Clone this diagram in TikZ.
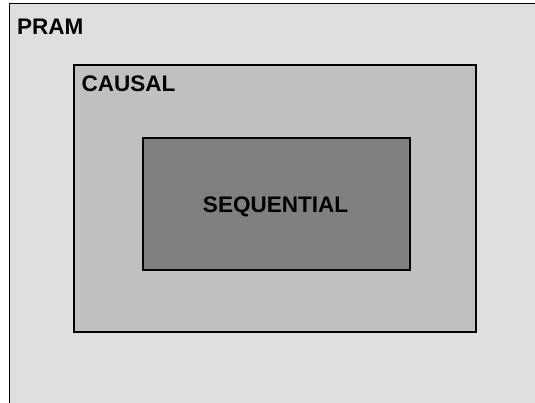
\documentclass[tikz,border=0pt]{standalone}
\usepackage{fontspec}
\setmainfont{Liberation Sans}
\begin{document}
\begin{tikzpicture}[x=1pt,y=1pt,
  region/.style={draw=black, line width=1.5pt, inner sep=0pt, outer sep=0pt},
  tag/.style={font=\bfseries\fontsize{22.5}{25}\selectfont, inner sep=0pt, text=black}]
  \useasboundingbox (0,0) rectangle (535,403);
  \clip (0,0) rectangle (535,403);
  \fill[white] (0,0) rectangle (535,403);
  % nested model regions
  \node[region, fill={rgb,255:red,223;green,223;blue,223}, anchor=north west,
        minimum width=560pt, minimum height=420pt] (pram) at (9.5,399.5) {};
  \node[region, fill={rgb,255:red,192;green,192;blue,192},
        minimum width=402pt, minimum height=267pt] (causal) at (275,204.5) {};
  \node[region, fill={rgb,255:red,128;green,128;blue,128},
        minimum width=267pt, minimum height=132pt] (seq) at (276.5,199) {};
  % labels
  \node[tag, anchor=base west] (pramlbl) at (17,368) {PRAM};
  \node[tag, anchor=base west] (causallbl) at (81.5,311) {CAUSAL};
  \node[tag, anchor=base] (seqlbl) at (275.5,190) {SEQUENTIAL};
\end{tikzpicture}
\end{document}
